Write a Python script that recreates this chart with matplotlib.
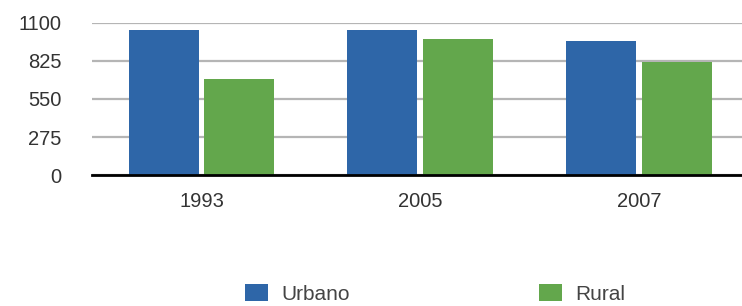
import matplotlib.pyplot as plt
import numpy as np

years = ["1993", "2005", "2007"]
urbano = [1050, 1050, 968]
rural = [692, 985, 815]
yticks = [0, 275, 550, 825, 1100]

plt.rcParams["font.family"] = ["Liberation Sans", "DejaVu Sans"]

fig = plt.figure(figsize=(7.42, 3.06), dpi=100)
ax = fig.add_axes([0.124, 0.428, 0.885, 0.497])

x = np.arange(len(years))
w = 0.32
ax.bar(x - w / 2 - 0.013, urbano, w, color="#2e66a8", label="Urbano", zorder=3)
ax.bar(x + w / 2 + 0.013, rural, w, color="#63a74c", label="Rural", zorder=3)

ax.set_xlim(-0.5, 2.5)
ax.set_ylim(0, 1100)
ax.set_yticks(yticks)
ax.set_xticks(x)
ax.set_xticklabels(years)
ax.yaxis.grid(True, color="#b5b5b5", linewidth=1.6, zorder=0)
for s in ["top", "right", "left"]:
    ax.spines[s].set_visible(False)
ax.spines["bottom"].set_linewidth(2)
ax.spines["bottom"].set_zorder(4)
ax.tick_params(axis="both", length=0, labelsize=14.5, colors="#333333")
ax.tick_params(axis="x", pad=12)
ax.tick_params(axis="y", pad=22)

fig.legend(loc="center left", bbox_to_anchor=(0.330, 0.04), ncol=2, frameon=False,
           fontsize=15, handlelength=1.1, handleheight=0.9, handletextpad=0.67,
           columnspacing=9.05, borderpad=0, borderaxespad=0,
           labelcolor="#444444")

fig.savefig("out.png", dpi=100)
